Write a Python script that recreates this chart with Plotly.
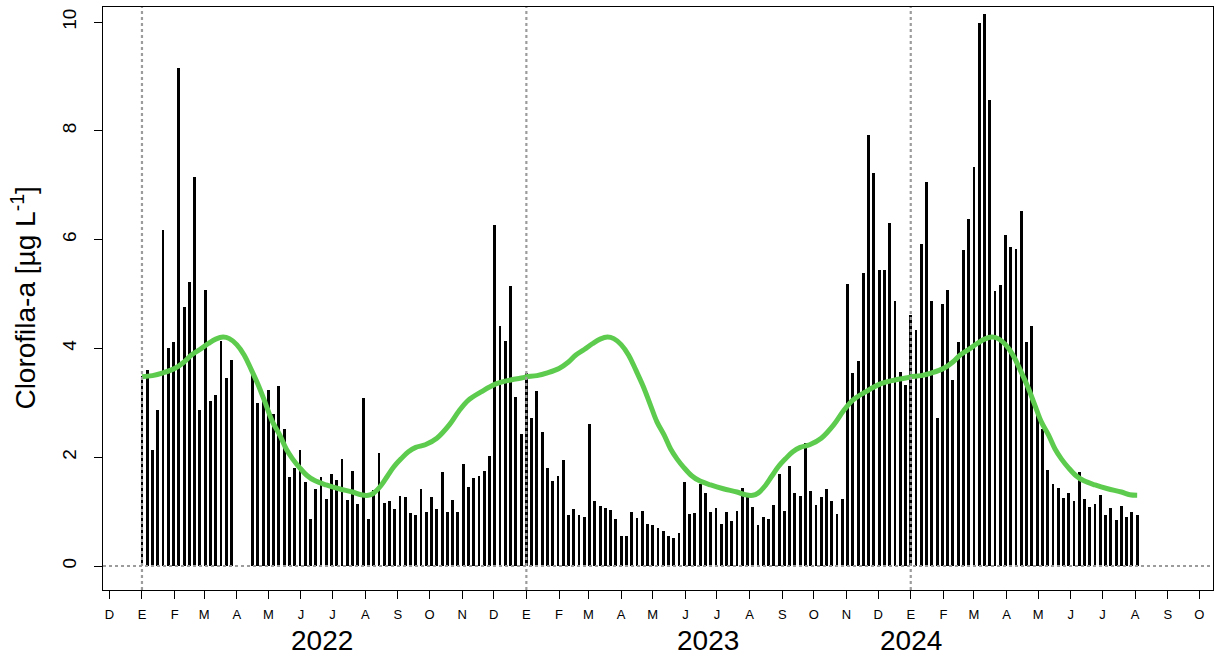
import pandas as pd
import plotly.graph_objects as go

# 5-day chlorophyll-a composites, one value every 5 days from 1 January of each year
chl_2022 = [3.50, 3.60, 2.14, 2.87, 6.18, 4.00, 4.12, 9.15, 4.77, 5.22, 7.15, 2.87, 5.08, 3.03, 3.15, 4.14, 3.45, 3.78,
            None, None, None,
            3.56, 2.99, 3.08, 3.24, 2.80, 3.31, 2.51, 1.64, 1.80, 2.14, 1.55,
            0.86, 1.41, 1.63, 1.24, 1.69, 1.59, 1.96, 1.21, 1.74, 1.14, 3.08, 0.86, 1.40, 2.08, 1.16, 1.19, 1.04, 1.29,
            1.26, 0.98, 0.93, 1.41, 1.00, 1.27, 1.04, 1.72, 1.00, 1.21, 1.00, 1.87, 1.46,
            1.61, 1.65, 1.75, 2.03, 6.27, 4.41, 4.14, 5.15, 3.11, 2.42]
chl_2023 = [3.54, 2.73, 3.21, 2.47, 1.80, 1.57, 1.65, 1.94, 0.93, 1.05, 0.93, 0.91, 2.61, 1.19, 1.10, 1.07, 1.03, 0.86,
            0.55, 0.55, 1.00,
            0.88, 1.02, 0.78, 0.75, 0.70, 0.64, 0.56, 0.52, 0.61, 1.55, 0.95, 0.97, 1.51, 1.35, 1.00, 1.07, 0.78, 1.00,
            0.83, 1.02, 1.43, 1.27, 1.09, 0.75, 0.91, 0.86, 1.12, 1.69, 1.02, 1.84, 1.35, 1.29,
            2.27, 1.38, 1.12, 1.26, 1.41, 1.19, 0.95, 1.24, 5.18, 3.54, 3.76, 5.39, 7.93, 7.23, 5.45, 5.45, 6.30, 4.88,
            3.57, 3.33]
chl_2024 = [4.61, 4.34, 5.92, 7.05, 4.88, 2.73, 4.81, 5.07, 3.42, 4.11, 5.80,
            6.38, 7.34, 9.99, 10.14, 8.56, 5.05, 5.17, 6.09, 5.87, 5.82, 6.52, 4.12, 4.42, 2.79, 2.52, 1.77, 1.51,
            1.43, 1.25, 1.34, 1.19, 1.72, 1.23, 1.08, 1.14, 1.31, 0.94, 1.06, 0.84, 1.10, 0.91, 0.99, 0.94]
years = [2022, 2023, 2024]
step_days = 5

# Smoothed climatology (day of year -> value), repeated for every year
clim_doy = [0, 10, 20, 31, 40, 47, 55, 63, 70, 77, 83, 90, 97, 104, 111, 118, 124, 131, 137, 143, 150, 157, 164,
            175, 187, 200, 208, 215, 220, 227, 233, 239, 246, 253, 260, 269, 280, 292, 301, 310, 322, 335, 350, 364]
clim_val = [3.48, 3.50, 3.55, 3.63, 3.75, 3.88, 3.98, 4.09, 4.17, 4.21, 4.18, 4.07, 3.88, 3.60, 3.30, 2.95, 2.65,
            2.40, 2.15, 1.97, 1.80, 1.66, 1.57, 1.49, 1.42, 1.36, 1.31, 1.30, 1.34, 1.48, 1.65, 1.82, 1.97, 2.10,
            2.18, 2.23, 2.35, 2.60, 2.85, 3.05, 3.20, 3.34, 3.42, 3.47]
clim_last_doy = 215  # last day covered by the series in 2024

month_initials = ["E", "F", "M", "A", "M", "J", "J", "A", "S", "O", "N", "D"]
year_labels = ["2022", "2023", "2024"]
year_label_dates = ["2022-06-21", "2023-06-22", "2024-01-01"]

x_start, x_end = "2021-11-25", "2024-10-14"
y_min, y_max = -0.441, 10.276

# ---- build series
bar_x, bar_y = [], []
for yr, vals in zip(years, [chl_2022, chl_2023, chl_2024]):
    jan1 = pd.Timestamp(f"{yr}-01-01")
    for i, v in enumerate(vals):
        bar_x.append(jan1 + pd.Timedelta(days=step_days * i))
        bar_y.append(v)

line_x, line_y = [], []
for yr in years:
    jan1 = pd.Timestamp(f"{yr}-01-01")
    for d, v in zip(clim_doy, clim_val):
        if yr == years[-1] and d > clim_last_doy:
            break
        line_x.append(jan1 + pd.Timedelta(days=d))
        line_y.append(v)

ticks = pd.date_range("2021-12-01", "2024-10-01", freq="MS")
tick_text = [month_initials[t.month - 1] for t in ticks]

font = "Liberation Sans, Arial, sans-serif"
fig = go.Figure()
fig.add_trace(go.Bar(x=bar_x, y=bar_y, width=2.7 * 86400000, marker=dict(color="black", line=dict(width=0)),
                     showlegend=False, hoverinfo="x+y"))
fig.add_trace(go.Scatter(x=line_x, y=line_y, mode="lines", line=dict(color="#5DCC4E", width=5, shape="spline",
                                                                     smoothing=1.0),
                         showlegend=False))

dot = dict(color="#9C9C9C", width=2.2, dash="dot")
for yr in years:
    fig.add_shape(type="line", xref="x", yref="paper", x0=f"{yr}-01-01", x1=f"{yr}-01-01", y0=0, y1=1,
                  line=dot, layer="above")
fig.add_shape(type="line", xref="paper", yref="y", x0=0, x1=1, y0=0, y1=0, line=dot, layer="above")

for lab, d in zip(year_labels, year_label_dates):
    fig.add_annotation(x=d, xref="x", y=-0.087, yref="paper", text=lab, showarrow=False,
                       font=dict(family=font, size=28, color="black"), xanchor="center", yanchor="middle")

fig.add_annotation(x=-0.072, xref="paper", y=0.50, yref="paper", text="Clorofila-a [µg L<sup>-1</sup>]",
                   textangle=-90, showarrow=False, font=dict(family=font, size=28, color="black"),
                   xanchor="center", yanchor="middle")

fig.update_layout(
    width=1217, height=656,
    margin=dict(l=103, r=4, t=7, b=66),
    plot_bgcolor="white", paper_bgcolor="white",
    bargap=0,
    xaxis=dict(type="date", range=[x_start, x_end], tickmode="array", tickvals=list(ticks), ticktext=tick_text,
               ticks="outside", ticklen=8, tickcolor="black", tickwidth=1, showgrid=False, zeroline=False,
               showline=True, linecolor="black", linewidth=1, mirror=True, ticklabelstandoff=4,
               tickfont=dict(family=font, size=13, color="black")),
    yaxis=dict(range=[y_min, y_max], tickvals=[0, 2, 4, 6, 8, 10], ticktext=["0", "2", "4", "6", "8", "10"],
               ticks="outside", ticklen=8, tickcolor="black", tickwidth=1, showgrid=False, zeroline=False,
               showline=True, linecolor="black", linewidth=1, mirror=True, tickangle=-90, ticklabelstandoff=10,
               tickfont=dict(family=font, size=19, color="black")),
)

fig.write_html("out.html")
